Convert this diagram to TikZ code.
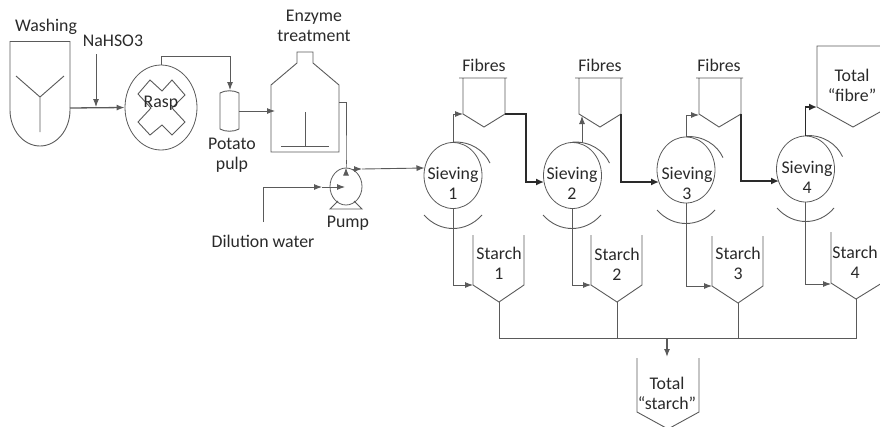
\documentclass[tikz,border=0pt]{standalone}
\usepackage{fontspec}
\setmainfont{Carlito}
\usepackage{xcolor}
\usetikzlibrary{arrows.meta,positioning,calc,shapes.geometric}

\definecolor{linegrey}{HTML}{5A5A5A}
\definecolor{textgrey}{HTML}{2A2A2A}

\tikzset{
  vessel/.style={draw=linegrey,line width=0.9pt},
  flow/.style={draw=linegrey,line width=0.9pt,-{Latex[length=8pt,width=6pt]}},
  heavyflow/.style={draw=textgrey,line width=1.7pt,-{Latex[length=8pt,width=7pt]}},
  oval/.style={ellipse,draw=linegrey,line width=0.8pt,inner sep=0pt},
  sieve/.style={oval,minimum width=58pt,minimum height=66pt},
  txt/.style={text=textgrey,font=\fontsize{17.8}{20}\selectfont,align=center,inner sep=0pt}
}

\begin{document}
\begin{tikzpicture}[x=1pt,y=-1pt]
\useasboundingbox (0,0) rectangle (880,426);
\clip (0,0) rectangle (880,426);

% washing
\draw[vessel] (10,110) -- (10,41.5) -- (70,41.5) -- (70,110) arc[start angle=0,end angle=180,x radius=30,y radius=36];
\draw[vessel] (16,76) -- (40,97) -- (64,76) (40,97) -- (40,132);
\coordinate (washout) at (70,108);
\coordinate (bisulfite) at (96,54);
\coordinate (bisulfitein) at (96,107);
\node[txt] (washinglabel) at (46,27) {Washing};
\node[txt] (bisulfitelabel) at (113,41) {NaHSO3};

% rasp
\node[oval,minimum width=72pt,minimum height=85pt] (rasp) at (161,107.5) {};
\draw[vessel] (138,94) -- (150,80) -- (162,91) -- (172,80) -- (185,95) -- (172,108) -- (185,122) -- (172,135) -- (162,125) -- (150,135) -- (138,122) -- (151,108) -- cycle;
\node[txt] (rasplabel) at (161,103) {Rasp};
\draw[flow,line width=1.3pt] (washout) -- (rasp.west);
\draw[flow] (bisulfite) -- (bisulfitein);

% pulp
\draw[vessel] (220,93) .. controls (225,90) and (234,90) .. (239,93) -- (239,129) .. controls (234,132) and (225,132) .. (220,129) -- cycle;
\coordinate (pulptop) at (230,90);
\coordinate (pulpout) at (239,111);
\node[txt] (pulplabel) at (232,155) {Potato\\pulp};
\draw[flow] (rasp.north) -- ++(0,-8) -| (pulptop);

% enzyme tank
\draw[vessel] (271,152) -- (271,85) -- (297,63) -- (297,52) -- (313,52) -- (313,63) -- (339,85) -- (339,152) -- cycle;
\draw[vessel] (305,112) -- (305,146) (281,146) -- (329,146);
\coordinate (tankin) at (275,111);
\coordinate (tankout) at (339,102);
\node[txt] (tanklabel) at (314,25.5) {Enzyme\\treatment};
\draw[flow] (pulpout) -- (tankin);

% pump
\node[oval,minimum width=32pt,minimum height=37pt] (pump) at (346,186.5) {};
\draw[vessel] (338,201) -- (330,209) -- (362,209) -- (354,201);
\node[txt] (pumplabel) at (348,223) {Pump};
\node[txt] (dilutionlabel) at (263,241) {Dilution water};
\coordinate (dilution) at (263,222);
\coordinate (dilutionmid) at (322,187);
\coordinate (pumpin) at (345,187);
\coordinate (pumpout) at (352,169);
\coordinate (pumpmid) at (362,169);
\draw[flow] (tankout) -- ++(7,0) |- (pump.north);
\draw[flow] (dilution) |- (dilutionmid);
\draw[flow] (dilutionmid) -- (pumpin);
\draw[flow] (pumpout) -- (pumpmid);

% sieving
\node[sieve] (sieve1) at (453,175.5) {};
\node[sieve] (sieve2) at (572.5,175.5) {};
\node[sieve] (sieve3) at (686,170) {};
\node[sieve] (sieve4) at (805.5,169) {};
\node[txt] (sieve1label) at (453,183) {Sieving\\1};
\node[txt] (sieve2label) at (572,183) {Sieving\\2};
\node[txt] (sieve3label) at (687,183) {Sieving\\3};
\node[txt] (sieve4label) at (807,177) {Sieving\\4};
\draw[vessel] (sieve1.north) .. controls +(17,-1) and +(-6,-13) .. +(37,21);
\draw[vessel] (sieve2.north) .. controls +(17,-1) and +(-6,-13) .. +(37,21);
\draw[vessel] (sieve3.north) .. controls +(17,-1) and +(-6,-13) .. +(37,21);
\draw[vessel] (sieve4.north) .. controls +(17,-1) and +(-6,-13) .. +(37,21);
\draw[vessel] (424,215) .. controls (440,233) and (466,233) .. (482,215);
\draw[vessel] (543,215) .. controls (559,233) and (585,233) .. (601,215);
\draw[vessel] (657,210) .. controls (673,228) and (699,228) .. (715,210);
\draw[vessel] (777,208) .. controls (793,226) and (819,226) .. (834,208);
\coordinate (sieve1in) at (424.5,168);
\draw[flow] (pumpmid) -- (sieve1in);

% fibres
\draw[vessel] (459,78) -- (507,78) (463,78) -- (463,114) -- (484,127) -- (505,114) -- (505,78);
\draw[vessel] (575,78) -- (623,78) (579,78) -- (579,114) -- (600,127) -- (621,114) -- (621,78);
\draw[vessel] (696,78) -- (743,78) (699,78) -- (699,114) -- (719,127) -- (741,114) -- (741,78);
\draw[vessel] (880,46) -- (817,46) -- (817,107) -- (853,127) -- (889,107);
\coordinate (fibres1in) at (463,114);
\coordinate (fibres1out) at (505,114);
\coordinate (fibres2in) at (582,116);
\coordinate (fibres2out) at (621,114);
\coordinate (fibres3in) at (699,115);
\coordinate (fibres3out) at (741,114);
\coordinate (totalfibrein) at (817,107);
\coordinate (sieve2in) at (544,182);
\coordinate (sieve3in) at (659,182);
\coordinate (sieve4in) at (779,181);
\node[txt] (fibres1label) at (484,65) {Fibres};
\node[txt] (fibres2label) at (600,65) {Fibres};
\node[txt] (fibres3label) at (719,65) {Fibres};
\node[txt] (totalfibrelabel) at (852,85.5) {Total\\“fibre”};
\draw[flow] (sieve1.north) |- (fibres1in);
\draw[flow] (sieve2.north) -- ++(9.5,0) -- (fibres2in);
\draw[flow] (sieve3.north) |- (fibres3in);
\draw[heavyflow] (sieve4.north) |- (totalfibrein);
\draw[heavyflow] (fibres1out) -- ++(21,0) |- (sieve2in);
\draw[heavyflow] (fibres2out) |- (sieve3in);
\draw[heavyflow] (fibres3out) |- (sieve4in);

% starch
\draw[vessel] (473,235) -- (473,285) -- (499,302) -- (524,285) -- (524,235);
\draw[vessel] (591,235) -- (591,285) -- (617,302) -- (642,285) -- (642,235);
\draw[vessel] (712,236) -- (712,286) -- (738,303) -- (763,286) -- (763,236);
\draw[vessel] (831,232) -- (831,283) -- (856,299) -- (882,283);
\coordinate (starch1in) at (473,285);
\coordinate (starch2in) at (591,285);
\coordinate (starch3in) at (712,286);
\coordinate (starch4in) at (831,284);
\coordinate (starch1out) at (499,302);
\coordinate (starch2out) at (617,302);
\coordinate (starch3out) at (738,303);
\coordinate (starch4out) at (856,299);
\node[txt] (starch1label) at (499,263.5) {Starch\\1};
\node[txt] (starch2label) at (617,264.5) {Starch\\2};
\node[txt] (starch3label) at (738,263.5) {Starch\\3};
\node[txt] (starch4label) at (855,262) {Starch\\4};
\draw[flow] (sieve1.south) |- (starch1in);
\draw[flow] (sieve2.south) |- (starch2in);
\draw[flow] (sieve3.south) |- (starch3in);
\draw[flow] (sieve4.south) |- (starch4in);

% total starch
\coordinate (busleft) at (499,338);
\coordinate (busright) at (856,338);
\coordinate (busmid) at (667,338);
\coordinate (totalstarchin) at (667,357);
\draw[vessel] (starch1out) -- (busleft) -- (busright) -- (starch4out);
\draw[vessel] (starch2out) -- (starch2out |- busleft);
\draw[vessel] (starch3out) -- (starch3out |- busleft);
\draw[flow,line width=1.3pt] (busmid) -- (totalstarchin);
\draw[vessel] (637,358) -- (637,412) -- (668,429) -- (699,412) -- (699,358);
\node[txt] (totalstarchlabel) at (667,393) {Total\\“starch”};
\end{tikzpicture}
\end{document}
